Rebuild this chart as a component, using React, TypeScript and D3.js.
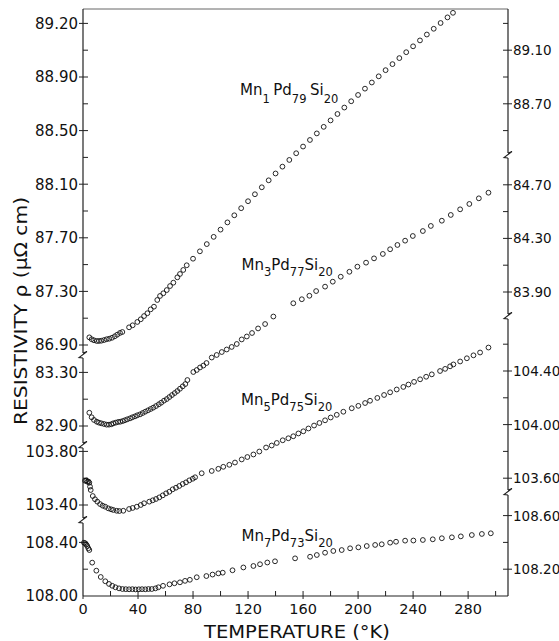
import React from "react";
import * as d3 from "d3";

// ---------- data: temperature (K) and resistivity (µΩ cm) ----------
const mn1Temp = [4.6, 6.3, 8.0, 10.0, 11.6, 13.3, 15.3, 17.2, 19.1, 21.1, 23.1, 24.9, 26.9, 28.6, 33.5, 36.1, 39.5, 42.0, 44.4, 46.8, 49.2, 51.6, 54.0, 56.0, 58.4, 60.9, 63.3, 65.7, 68.6, 70.5, 72.9, 75.4, 80, 85, 90, 95, 100, 105, 110, 115, 120, 125, 130, 135, 140, 145, 150, 155, 160, 165, 170, 175, 180, 185, 190, 195, 200, 205, 210, 215, 220, 225, 230, 235, 240, 245, 250, 255, 260, 265, 269];
const mn1Rho = [86.957, 86.943, 86.935, 86.930, 86.930, 86.932, 86.937, 86.943, 86.947, 86.954, 86.965, 86.977, 86.990, 86.997, 87.032, 87.047, 87.072, 87.092, 87.116, 87.137, 87.166, 87.186, 87.236, 87.266, 87.286, 87.310, 87.340, 87.365, 87.405, 87.430, 87.460, 87.495, 87.544, 87.599, 87.653, 87.707, 87.761, 87.815, 87.868, 87.921, 87.973, 88.025, 88.077, 88.129, 88.180, 88.231, 88.281, 88.331, 88.381, 88.430, 88.479, 88.528, 88.576, 88.624, 88.672, 88.719, 88.766, 88.813, 88.859, 88.905, 88.951, 88.996, 89.041, 89.085, 89.129, 89.173, 89.217, 89.260, 89.303, 89.345, 89.379];

const mn3Temp = [4.6, 6.3, 8.0, 10.0, 11.6, 13.3, 15.3, 17.2, 18.9, 20.6, 22.0, 23.8, 25.5, 27.1, 28.9, 30.5, 32.2, 34.2, 35.9, 37.8, 39.5, 41.5, 43.4, 45.3, 47.3, 49.2, 51.1, 53.1, 55.1, 56.9, 58.9, 60.9, 62.8, 64.7, 66.7, 68.6, 70.5, 72.5, 74.4, 75.9, 80.2, 82.7, 85.1, 87.5, 89.8, 93.6, 97.2, 100.9, 104.5, 108.1, 111.8, 115.4, 119.1, 122.9, 127.3, 132.4, 138.4, 152.9, 159.1, 164.6, 169.5, 176.0, 181.6, 187.4, 193.7, 199.5, 205.8, 211.6, 218.0, 223.3, 228.6, 234.2, 239.8, 247.1, 252.9, 260.9, 267.4, 274.2, 280.9, 287.8, 294.8];
const mn3Rho = [82.999, 82.965, 82.945, 82.932, 82.925, 82.920, 82.915, 82.910, 82.910, 82.913, 82.920, 82.925, 82.930, 82.932, 82.937, 82.943, 82.950, 82.957, 82.965, 82.972, 82.980, 82.987, 82.997, 83.007, 83.017, 83.027, 83.037, 83.049, 83.062, 83.074, 83.089, 83.101, 83.116, 83.131, 83.146, 83.161, 83.178, 83.196, 83.213, 83.243, 83.303, 83.318, 83.337, 83.351, 83.370, 83.411, 83.430, 83.452, 83.471, 83.490, 83.512, 83.546, 83.568, 83.594, 83.628, 83.661, 83.717, 83.816, 83.846, 83.872, 83.907, 83.940, 83.977, 84.014, 84.051, 84.089, 84.119, 84.151, 84.184, 84.219, 84.251, 84.283, 84.318, 84.355, 84.393, 84.432, 84.475, 84.517, 84.557, 84.599, 84.641];

const mn5Temp = [1.5, 2.4, 3.1, 4.0, 4.6, 5.1, 5.6, 7.1, 8.7, 10.4, 12.4, 14.3, 16.2, 18.4, 20.4, 22.0, 24.5, 26.4, 29.3, 33.5, 36.1, 39.1, 42.0, 44.4, 48.2, 50.7, 53.1, 55.5, 58.0, 60.4, 62.8, 65.2, 67.6, 70.0, 72.5, 74.9, 77.3, 79.8, 81.5, 86.3, 93.6, 98.4, 102.0, 106.4, 110.5, 115.4, 119.5, 123.9, 128.2, 133.1, 137.2, 140.9, 145.2, 149.3, 152.9, 156.6, 160.2, 163.9, 168.0, 171.9, 176.0, 180.1, 184.5, 189.3, 195.4, 200.2, 205.1, 208.7, 214.0, 218.9, 223.3, 228.1, 232.9, 236.6, 240.7, 245.1, 249.5, 253.6, 259.6, 263.3, 266.9, 269.3, 274.2, 279.1, 283.9, 288.7, 294.8];
const mn5Rho = [103.581, 103.583, 103.574, 103.575, 103.566, 103.537, 103.512, 103.467, 103.443, 103.425, 103.407, 103.395, 103.387, 103.375, 103.368, 103.363, 103.357, 103.355, 103.357, 103.370, 103.378, 103.387, 103.400, 103.413, 103.425, 103.435, 103.445, 103.457, 103.472, 103.487, 103.499, 103.517, 103.529, 103.542, 103.557, 103.569, 103.584, 103.596, 103.607, 103.637, 103.654, 103.670, 103.685, 103.700, 103.717, 103.740, 103.758, 103.777, 103.799, 103.829, 103.844, 103.863, 103.883, 103.898, 103.913, 103.934, 103.950, 103.971, 103.993, 104.012, 104.032, 104.053, 104.073, 104.096, 104.122, 104.140, 104.161, 104.178, 104.199, 104.221, 104.241, 104.262, 104.281, 104.299, 104.319, 104.338, 104.357, 104.375, 104.400, 104.416, 104.435, 104.449, 104.471, 104.495, 104.517, 104.538, 104.575];

const mn7Temp = [0.7, 1.7, 2.4, 3.1, 3.9, 4.6, 6.7, 9.7, 12.9, 16.2, 18.9, 21.3, 23.6, 26.2, 28.7, 31.1, 33.5, 35.9, 38.2, 40.6, 42.9, 45.3, 47.6, 50.0, 52.7, 54.8, 58.2, 62.9, 66.5, 70.5, 74.2, 77.7, 82.7, 89.7, 94.2, 98.4, 101.6, 108.7, 116.6, 123.9, 128.7, 134.0, 139.6, 154.2, 165.1, 170.0, 176.0, 182.0, 188.1, 194.2, 200.2, 206.3, 212.4, 217.2, 223.3, 227.6, 234.2, 240.2, 247.1, 254.3, 260.9, 268.2, 274.7, 282.7, 290.0, 296.5];
const mn7Rho = [108.398, 108.393, 108.384, 108.373, 108.356, 108.343, 108.249, 108.189, 108.142, 108.110, 108.090, 108.076, 108.065, 108.057, 108.052, 108.051, 108.050, 108.051, 108.049, 108.050, 108.051, 108.050, 108.052, 108.052, 108.057, 108.065, 108.076, 108.087, 108.095, 108.102, 108.113, 108.121, 108.140, 108.149, 108.160, 108.169, 108.174, 108.192, 108.213, 108.224, 108.237, 108.250, 108.259, 108.281, 108.293, 108.306, 108.323, 108.336, 108.343, 108.356, 108.363, 108.373, 108.381, 108.386, 108.398, 108.405, 108.413, 108.414, 108.418, 108.423, 108.431, 108.438, 108.445, 108.455, 108.463, 108.468];

// composition labels: element, subscript pairs
const mn1Formula = ["Mn", "1", "Pd", "79", "Si", "20"];
const mn3Formula = ["Mn", "3", "Pd", "77", "Si", "20"];
const mn5Formula = ["Mn", "5", "Pd", "75", "Si", "20"];
const mn7Formula = ["Mn", "7", "Pd", "73", "Si", "20"];

// axis ticks
const tempTicks = [20, 40, 60, 80, 100, 120, 140, 160, 180, 200, 220, 240, 260, 280, 300];
const tempLabels = [0, 40, 80, 120, 160, 200, 240, 280];

const leftTicksMn1 = [86.9, 87.3, 87.7, 88.1, 88.5, 88.9, 89.3];
const leftTextMn1 = ["86.90", "87.30", "87.70", "88.10", "88.50", "88.90", "89.20"];
const leftTicksMn3 = [82.9, 83.3];
const leftTicksMn5 = [103.4, 103.8];
const leftTicksMn7 = [108.0, 108.4];

const rightTicksMn1 = [88.7, 89.1];
const rightTicksMn3 = [83.9, 84.3, 84.7];
const rightTicksMn5 = [103.6, 104.0, 104.4];
const rightTicksMn7 = [108.2, 108.6];

const xTitle = "TEMPERATURE (°K)";
const yTitle = "RESISTIVITY ρ (μΩ cm)";

// ---------- layout ----------
const W = 559;
const H = 641;
const FRAME = { left: 83, right: 508, top: 9, bottom: 596 };
const TEMP_MAX = 309;
const PX_PER_UNIT = 134;
const FONT = "'DejaVu Sans', 'Liberation Sans', sans-serif";

const SERIES = [
  { temp: mn1Temp, rho: mn1Rho, ref: 86.9, refY: 345, formula: mn1Formula, lx: 240, ly: 95, gap: 3.5, sub: 8 },
  { temp: mn3Temp, rho: mn3Rho, ref: 82.9, refY: 426, formula: mn3Formula, lx: 241.5, ly: 270, gap: 0, sub: 6 },
  { temp: mn5Temp, rho: mn5Rho, ref: 103.4, refY: 505, formula: mn5Formula, lx: 241, ly: 405, gap: 0, sub: 6 },
  { temp: mn7Temp, rho: mn7Rho, ref: 108.0, refY: 596, formula: mn7Formula, lx: 241.5, ly: 541, gap: 0, sub: 6 },
];

const LEFT_SEGMENTS = [
  { s: 0, from: 9, to: 357, ticks: leftTicksMn1, text: leftTextMn1 },
  { s: 1, from: 357, to: 447, ticks: leftTicksMn3, text: null },
  { s: 2, from: 447, to: 522, ticks: leftTicksMn5, text: null },
  { s: 3, from: 522, to: 596, ticks: leftTicksMn7, text: null },
];
const RIGHT_SEGMENTS = [
  { s: 0, from: 9, to: 157, ticks: rightTicksMn1, text: null },
  { s: 1, from: 157, to: 318, ticks: rightTicksMn3, text: null },
  { s: 2, from: 318, to: 494, ticks: rightTicksMn5, text: null },
  { s: 3, from: 494, to: 596, ticks: rightTicksMn7, text: null },
];

const fmt = d3.format(".2f");

type Seg = { s: number; from: number; to: number; ticks: number[]; text: string[] | null };

function AxisSide({ side, segs, scales }: { side: "left" | "right"; segs: Seg[]; scales: d3.ScaleLinear<number, number>[] }) {
  const ax = side === "left" ? FRAME.left : FRAME.right;
  const inward = side === "left" ? 1 : -1;
  const items: React.ReactNode[] = [];
  segs.forEach((seg, si) => {
    const y = scales[seg.s];
    const base = seg.ticks[0];
    const lo = y.invert(seg.to);
    const hi = y.invert(seg.from);
    const k0 = Math.ceil((lo - base) / 0.2 - 1e-6);
    const k1 = Math.floor((hi - base) / 0.2 + 1e-6);
    d3.range(k0, k1 + 1).forEach((k) => {
      const v = base + k * 0.2;
      const py = y(v);
      if (py < seg.from + 4 || py > seg.to - 4) return;
      const isMajor = seg.ticks.some((t) => Math.abs(t - v) < 1e-6);
      items.push(
        <line key={`t${si}-${k}`} x1={ax - (isMajor ? 4 * inward : 0)} x2={ax + 5 * inward} y1={py} y2={py} stroke="#222" strokeWidth={1} />
      );
    });
    seg.ticks.forEach((v, i) => {
      const py = y(v);
      const label = seg.text ? seg.text[i] : fmt(v);
      items.push(
        side === "left" ? (
          <text key={`l${si}-${i}`} x={ax - 5} y={py + 5.4} textAnchor="end" fontSize={15} fontFamily={FONT} fill="#111">
            {label}
          </text>
        ) : (
          <text key={`l${si}-${i}`} x={ax + 5} y={py + 5} textAnchor="start" fontSize={13.5} fontFamily={FONT} fill="#111">
            {label}
          </text>
        )
      );
    });
    // axis line of this segment
    const top = si === 0 ? seg.from : seg.from + 1;
    const bot = si === segs.length - 1 ? seg.to : seg.to - 4;
    items.push(<line key={`a${si}`} x1={ax} x2={ax} y1={top} y2={bot} stroke="#222" strokeWidth={1.2} />);
    if (si < segs.length - 1) {
      const b = seg.to;
      items.push(
        <polyline
          key={`b${si}`}
          points={`${ax},${b - 4} ${ax + 4},${b - 5.5} ${ax - 4},${b + 0.5} ${ax},${b + 1}`}
          fill="none"
          stroke="#222"
          strokeWidth={1.1}
        />
      );
    }
  });
  return <g>{items}</g>;
}

export default function App() {
  const x = d3.scaleLinear().domain([0, TEMP_MAX]).range([FRAME.left, FRAME.right]);
  const scales = SERIES.map((s) =>
    d3.scaleLinear().domain([s.ref, s.ref + 1]).range([s.refY, s.refY - PX_PER_UNIT])
  );

  return (
    <svg
      width={W}
      height={H}
      viewBox={`0 0 ${W} ${H}`}
      style={{ position: "absolute", left: 0, top: 0, background: "#fff" }}
    >
      {/* frame top and bottom */}
      <line x1={FRAME.left} x2={FRAME.right} y1={FRAME.top} y2={FRAME.top} stroke="#555" strokeWidth={0.9} />
      <line x1={FRAME.left} x2={FRAME.right} y1={FRAME.bottom} y2={FRAME.bottom} stroke="#222" strokeWidth={1.2} />

      {/* temperature axis */}
      {tempTicks.map((t) => (
        <line key={`xt${t}`} x1={x(t)} x2={x(t)} y1={FRAME.bottom} y2={FRAME.bottom - 5} stroke="#222" strokeWidth={1} />
      ))}
      {tempLabels.map((t) => (
        <g key={`xl${t}`}>
          <line x1={x(t)} x2={x(t)} y1={FRAME.bottom} y2={FRAME.bottom + 3} stroke="#222" strokeWidth={1} />
          <text x={x(t)} y={614} textAnchor="middle" fontSize={14.5} fontFamily={FONT} fill="#111">
            {t}
          </text>
        </g>
      ))}
      <text x={204} y={638} fontSize={17} fontFamily={FONT} fill="#111" textLength={186} lengthAdjust="spacingAndGlyphs">
        {xTitle}
      </text>

      {/* resistivity axes with breaks */}
      <AxisSide side="left" segs={LEFT_SEGMENTS} scales={scales} />
      <AxisSide side="right" segs={RIGHT_SEGMENTS} scales={scales} />

      <text
        transform="translate(26.5,311) rotate(-90)"
        textAnchor="middle"
        fontSize={18}
        fontFamily={FONT}
        fill="#111"
        textLength={228}
        lengthAdjust="spacingAndGlyphs"
      >
        {yTitle}
      </text>

      {/* data points */}
      {SERIES.map((s, si) => (
        <g key={`s${si}`}>
          {s.temp.map((t, i) => (
            <circle key={i} cx={x(t)} cy={scales[si](s.rho[i])} r={2.4} fill="none" stroke="#111" strokeWidth={0.9} />
          ))}
        </g>
      ))}

      {/* composition labels */}
      {SERIES.map((s, si) => (
        <text key={`f${si}`} x={s.lx} y={s.ly} fontSize={15} fontFamily={FONT} fill="#111">
          {s.formula.map((p, i) =>
            i % 2 === 0 ? (
              <tspan key={i} y={s.ly} dx={i > 0 ? s.gap : 0}>
                {p}
              </tspan>
            ) : (
              <tspan key={i} y={s.ly + s.sub} fontSize={11.5}>
                {p}
              </tspan>
            )
          )}
        </text>
      ))}
    </svg>
  );
}
